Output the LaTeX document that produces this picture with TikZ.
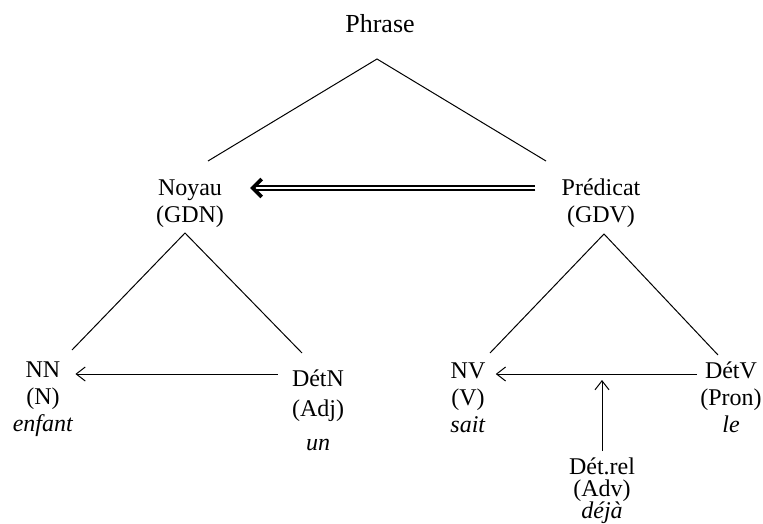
\documentclass[tikz,border=0pt]{standalone}
\usepackage{fontspec}
\setmainfont{Liberation Serif}
\usetikzlibrary{arrows.meta,positioning}

\begin{document}
\begin{tikzpicture}[x=1pt,y=-1pt,>={Straight Barb[length=9pt,width=14pt]},
  cat/.style={align=center, inner sep=0pt, anchor=base, font=\fontsize{24}{27}\selectfont},
  branch/.style={line width=1pt},
  dep/.style={->, line width=1pt}]
\useasboundingbox (0,0) rectangle (763,524);
% Categories (base = last line)
\node[cat, font=\fontsize{26}{28}\selectfont] (phrase) at (380,33) {Phrase};
\node[cat] (noyau) at (190,222) {Noyau\\(GDN)};
\node[cat] (pred) at (601,222) {Prédicat\\(GDV)};
\node[cat] (nn) at (43,431) {NN\\(N)\\\textit{enfant}};
\node[cat] (detn) at (318,450) {DétN\\[3pt](Adj)\\[7pt]\textit{un}};
\node[cat] (nv) at (468,432) {NV\\(V)\\\textit{sait}};
\node[cat] (detv) at (731,432) {DétV\\(Pron)\\\textit{le}};
\node[cat, font=\fontsize{24}{22}\selectfont] (detrel) at (602,518) {Dét.rel\\(Adv)\\\textit{déjà}};
% Branch ends
\coordinate (ph-top) at ([shift={(-3pt,-26pt)}]phrase.base);
\coordinate (noyau-up) at ([shift={(18pt,61pt)}]noyau.base);
\coordinate (pred-up) at ([shift={(-55pt,61pt)}]pred.base);
\coordinate (noyau-top) at ([shift={(-5pt,-11pt)}]noyau.base);
\coordinate (nn-up) at ([shift={(29pt,81pt)}]nn.base);
\coordinate (detn-up) at ([shift={(-16pt,97pt)}]detn.base);
\coordinate (pred-top) at ([shift={(3pt,-12pt)}]pred.base);
\coordinate (nv-up) at ([shift={(22pt,79pt)}]nv.base);
\coordinate (detv-up) at ([shift={(-13pt,77pt)}]detv.base);
% The triangles
\draw[branch] (noyau-up) -- (ph-top) -- (pred-up);
\draw[branch] (nn-up) -- (noyau-top) -- (detn-up);
\draw[branch] (nv-up) -- (pred-top) -- (detv-up);
% Dependencies
\coordinate (gdv-out) at ([shift={(-26pt,34pt)}]pred.base west);
\coordinate (gdn-in) at ([shift={(26pt,34pt)}]noyau.base east);
\draw[double, double distance=2.6pt, line width=1.3pt, shorten >=3pt] (gdv-out) -- (gdn-in);
\draw[line width=0.1pt, -{Straight Barb[length=9pt,width=18pt,line width=3.6pt]}]
  ([xshift=1pt]gdn-in) -- (gdn-in);
\draw[dep] ([shift={(-14pt,76pt)}]detn.base west) -- ([shift={(2pt,57pt)}]nn.base east);
\draw[dep] ([shift={(-3pt,58pt)}]detv.base west) -- ([shift={(10pt,58pt)}]nv.base east);
\draw[dep] ([yshift=6pt]detrel.north) -- ([yshift=52pt]detrel.north |- nv.base);
\end{tikzpicture}
\end{document}
